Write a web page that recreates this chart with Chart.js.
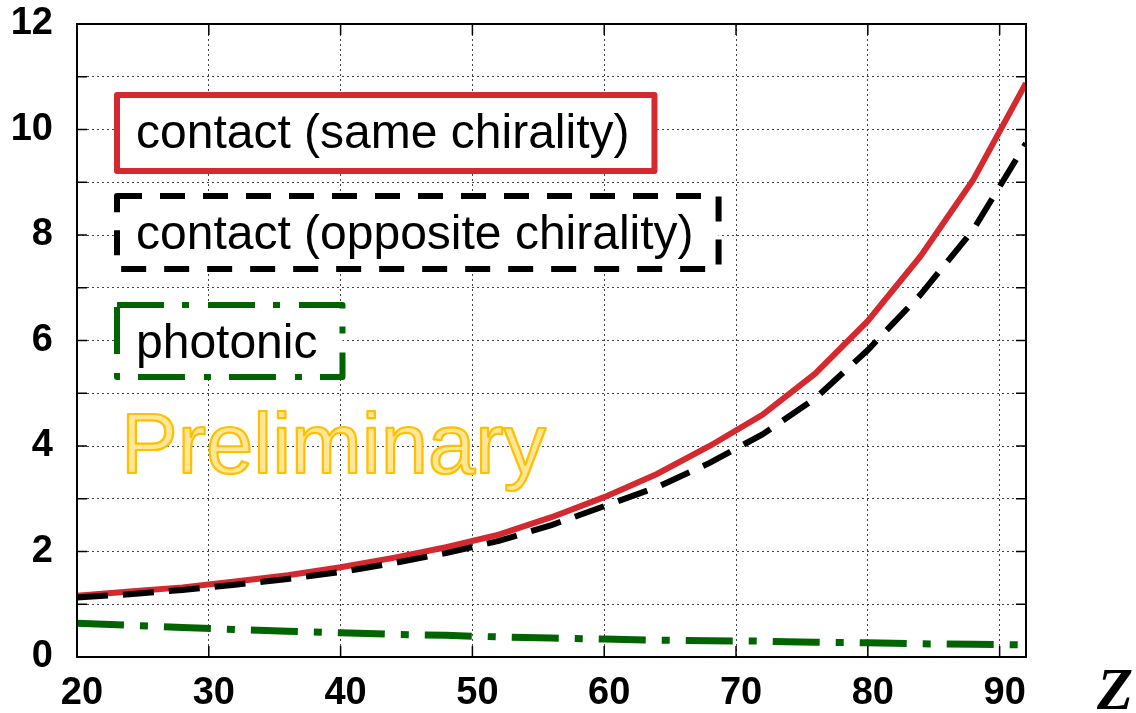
<!DOCTYPE html>
<html>
<head>
<meta charset="utf-8">
<script src="https://cdn.jsdelivr.net/npm/chart.js@4/dist/chart.umd.min.js"></script>
<style>
  html, body { margin: 0; padding: 0; background: #fff; }
  #wrap { width: 1136px; height: 713px; position: relative; }
</style>
</head>
<body>
<div id="wrap"><canvas id="c" width="1136" height="713"></canvas></div>
<script>
// Atomic number Z at which each curve is sampled
const zValues = [20, 24, 28, 32, 36, 40, 44, 48, 52, 56, 60, 64, 68, 72, 76, 80, 84, 88, 92];

// Curve values
const sameChirality     = [1.16, 1.24, 1.32, 1.43, 1.55, 1.70, 1.88, 2.08, 2.32, 2.65, 3.03, 3.47, 4.00, 4.59, 5.37, 6.37, 7.60, 9.05, 10.88];
const oppositeChirality = [1.13, 1.19, 1.27, 1.37, 1.48, 1.61, 1.78, 1.97, 2.20, 2.50, 2.86, 3.22, 3.68, 4.22, 4.90, 5.82, 6.87, 8.10, 9.74];
const photonic          = [0.64, 0.60, 0.56, 0.52, 0.49, 0.46, 0.43, 0.41, 0.38, 0.36, 0.34, 0.32, 0.31, 0.30, 0.28, 0.27, 0.25, 0.24, 0.23];

const seriesLabels = ['contact (same chirality)', 'contact (opposite chirality)', 'photonic'];

// Axis ticks
const xTicks = [20, 30, 40, 50, 60, 70, 80, 90];
const yGridValues = [0, 1, 2, 3, 4, 5, 6, 7, 8, 9, 10, 11, 12];
const yTickLabels = [0, 2, 4, 6, 8, 10, 12];

const xAxisTitle = 'Z';
const watermark = 'Preliminary';

const RED = '#D42A2F';
const BLACK = '#000000';
const GREEN = '#006400';

const DASH_LINE = [31, 15];
const DASHDOT_LINE = [47, 16, 8, 16];

Chart.defaults.font.family = '"Liberation Sans", Arial, sans-serif';

const toPoints = ys => zValues.map((z, i) => ({ x: z, y: ys[i] }));

// Key boxes drawn inside the plot, one per series (ds = dataset index)
const keyBoxes = [
  { ds: 1, left: 117, top: 95,  height: 76, dash: [] },
  { ds: 0, left: 117, top: 196, height: 73, dash: [25, 18] },
  { ds: 2, left: 117, top: 305, height: 72, dash: [47, 18, 7, 19] }
];

// Scales keep a fixed frame: no extra room reserved for edge labels
const noEdgePadding = s => {
  s.paddingTop = 0; s.paddingBottom = 0;
  s.paddingLeft = 0; s.paddingRight = 0;
};

const plotDecor = {
  id: 'plotDecor',
  beforeDatasetsDraw(chart) {
    const ctx = chart.ctx;
    ctx.save();
    ctx.font = '85px "Liberation Sans", Arial, sans-serif';
    ctx.textBaseline = 'alphabetic';
    ctx.textAlign = 'left';
    ctx.fillStyle = '#FFE699';
    ctx.strokeStyle = '#FFC000';
    ctx.lineWidth = 2.2;
    ctx.lineJoin = 'round';
    ctx.fillText(watermark, 121, 473);
    ctx.strokeText(watermark, 121, 473);
    ctx.restore();
  },
  afterDatasetsDraw(chart) {
    const ctx = chart.ctx;
    const { left, right, top, bottom } = chart.chartArea;
    const xs = chart.scales.x, ys = chart.scales.y;
    ctx.save();
    // frame
    ctx.strokeStyle = '#000';
    ctx.lineWidth = 2;
    ctx.setLineDash([]);
    ctx.strokeRect(left, top, right - left, bottom - top);
    // inward tick marks on all four sides
    ctx.lineWidth = 1.5;
    ctx.beginPath();
    xTicks.forEach(v => {
      const px = xs.getPixelForValue(v);
      ctx.moveTo(px, bottom); ctx.lineTo(px, bottom - 11);
      ctx.moveTo(px, top); ctx.lineTo(px, top + 11);
    });
    yGridValues.forEach(v => {
      const py = ys.getPixelForValue(v);
      ctx.moveTo(left, py); ctx.lineTo(left + 10, py);
      ctx.moveTo(right, py); ctx.lineTo(right - 10, py);
    });
    ctx.stroke();

    // key boxes
    ctx.font = '48px "Liberation Sans", Arial, sans-serif';
    ctx.textBaseline = 'alphabetic';
    ctx.textAlign = 'left';
    keyBoxes.forEach(b => {
      const ds = chart.data.datasets[b.ds];
      const textX = b.left + 19;
      const w = ctx.measureText(ds.label).width + 19 + 25;
      ctx.fillStyle = '#fff';
      ctx.fillRect(b.left, b.top, w, b.height);
      ctx.strokeStyle = ds.borderColor;
      ctx.lineWidth = 6;
      ctx.lineJoin = 'round';
      ctx.lineCap = 'butt';
      ctx.setLineDash(b.dash);
      ctx.strokeRect(b.left, b.top, w, b.height);
      ctx.setLineDash([]);
      ctx.fillStyle = '#000';
      ctx.fillText(ds.label, textX, b.top + 53);
    });

    // x-axis title
    ctx.font = 'italic bold 59px "Liberation Serif", "Times New Roman", serif';
    ctx.fillStyle = '#000';
    ctx.fillText(xAxisTitle, 1097, 709);
    ctx.restore();
  }
};

new Chart(document.getElementById('c'), {
  type: 'line',
  data: {
    datasets: [
      {
        label: seriesLabels[1], data: toPoints(oppositeChirality),
        borderColor: BLACK, borderWidth: 6, borderDash: DASH_LINE,
        pointRadius: 0, tension: 0, fill: false, order: 0
      },
      {
        label: seriesLabels[0], data: toPoints(sameChirality),
        borderColor: RED, borderWidth: 6,
        pointRadius: 0, tension: 0, fill: false, order: 1
      },
      {
        label: seriesLabels[2], data: toPoints(photonic),
        borderColor: GREEN, borderWidth: 7, borderDash: DASHDOT_LINE,
        pointRadius: 0, tension: 0, fill: false, order: 2
      }
    ]
  },
  options: {
    responsive: false,
    animation: false,
    layout: { padding: { top: 24, right: 110, left: 0, bottom: 0 } },
    plugins: { legend: { display: false }, tooltip: { enabled: false } },
    scales: {
      x: {
        type: 'linear', min: 20, max: 92,
        afterBuildTicks: s => { s.ticks = xTicks.map(v => ({ value: v })); },
        afterFit: s => { s.height = 56; noEdgePadding(s); },
        grid: { color: '#444', lineWidth: 1, drawTicks: false },
        border: { display: false, dash: [2, 3] },
        ticks: {
          color: '#000', font: { size: 38, weight: 'bold' },
          padding: 14, labelOffset: 5, maxRotation: 0, autoSkip: false
        }
      },
      y: {
        type: 'linear', min: 0, max: 12,
        afterBuildTicks: s => { s.ticks = yGridValues.map(v => ({ value: v })); },
        afterFit: s => { s.width = 77; noEdgePadding(s); },
        grid: { color: '#444', lineWidth: 1, drawTicks: false },
        border: { display: false, dash: [2, 3] },
        ticks: {
          color: '#000', font: { size: 38, weight: 'bold' },
          padding: 24, autoSkip: false,
          callback: v => (yTickLabels.includes(v) ? String(v) : '')
        }
      }
    }
  },
  plugins: [plotDecor]
});
</script>
</body>
</html>
